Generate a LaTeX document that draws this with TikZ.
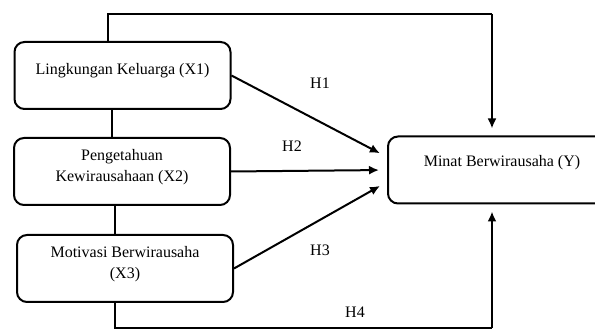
\documentclass[tikz,border=0pt]{standalone}
\usepackage{fontspec}
\setmainfont{Liberation Serif}
\usetikzlibrary{arrows.meta,positioning,calc}

\begin{document}
\begin{tikzpicture}[
  x=0.5pt, y=-0.5pt,
  font=\fontsize{8}{10.5}\selectfont,
  var/.style={draw, line width=1pt, rounded corners=5pt, minimum width=108pt, minimum height=33.5pt, text depth=6.5pt, align=center},
  link/.style={line width=1pt},
  effect/.style={line width=1pt, -{Latex[length=5pt,width=4.5pt]}, shorten >=4pt}
]
\useasboundingbox (0,0) rectangle (595,330);
\node[var] (x1) at (122.5,75.5) {Lingkungan Keluarga (X1)};
\node[var] (x2) at (122,171.5) {Pengetahuan\\Kewirausahaan (X2)};
\node[var] (x3) at (125,268.5) {Motivasi Berwirausaha\\(X3)};
\node[var, minimum width=114pt, text depth=9pt] (y) at (502,170) {Minat Berwirausaha (Y)};
% jalur atas dan bawah
\coordinate (t1) at (108,14);
\coordinate (t2) at (492,14);
\coordinate (b1) at (115,328);
\coordinate (b2) at (492,328);
\coordinate (v1) at (112,0);
\coordinate (v2) at (115,0);
\draw[link] (x1.north -| t1) -- (t1) -- (t2);
\draw[effect, shorten >=3.5pt] (t2) -- (y.north -| t2);
\draw[link] (x1.south -| v1) -- (x2.north -| v1);
\draw[link] (x2.south -| v2) -- (x3.north -| v2);
\draw[link] (x3.south -| b1) -- (b1) -- (b2);
\draw[effect, shorten >=3.5pt] (b2) -- (y.south -| b2);
% pengaruh parsial
\draw[effect] (x1.east) -- ($(y.west)+(0,-13)$);
\draw[effect] (x2.east) -- ($(y.west)+(0,0)$);
\draw[effect] (x3.east) -- ($(y.west)+(0,12)$);
\node (h1) at (320,83) {H1};
\node (h2) at (292,146) {H2};
\node (h3) at (320,250) {H3};
\node (h4) at (355,312) {H4};
\end{tikzpicture}
\end{document}
